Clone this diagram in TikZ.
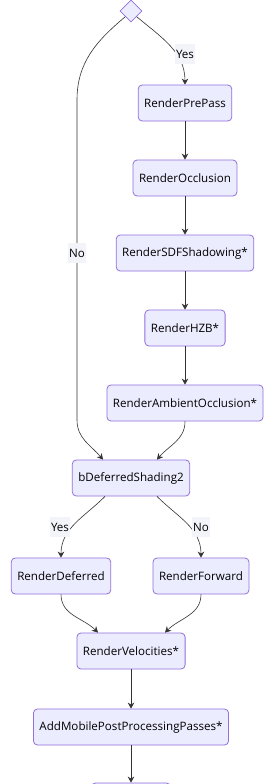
\documentclass[tikz,border=0pt]{standalone}
\usepackage{fontspec}
\setmainfont{Open Sans}
\usetikzlibrary{arrows.meta,shapes.geometric}
\definecolor{boxfill}{HTML}{ECECFF}
\definecolor{boxline}{HTML}{9370DB}
\definecolor{edgeline}{HTML}{333333}
\definecolor{lblfill}{HTML}{F3F3FA}
\tikzset{
  stepbox/.style={draw=boxline, fill=boxfill, rounded corners=4pt, line width=0.8pt,
    minimum height=36pt, inner xsep=6pt, font=\fontsize{11.6}{13}\selectfont},
  choice/.style={diamond, aspect=1, draw=boxline, fill=boxfill, line width=0.8pt,
    minimum size=22pt, inner sep=0pt},
  flow/.style={draw=edgeline, line width=0.6pt, -{Stealth[length=6pt,width=6.5pt,inset=2pt]}},
  edgelbl/.style={fill=lblfill, inner sep=1pt, minimum height=20pt, font=\fontsize{11.6}{13}\selectfont}
}
\begin{document}
\begin{tikzpicture}[x=1pt, y=-1pt]
\clip (0,0) rectangle (273,784);
\fill[white] (0,0) rectangle (273,784);
\node[choice] (dec) at (131,11) {};
\node[stepbox] (prepass) at (185,103) {RenderPrePass};
\node[stepbox] (occl) at (185,178) {RenderOcclusion};
\node[stepbox] (sdf) at (185,253) {RenderSDFShadowing*};
\node[stepbox] (hzb) at (185,328) {RenderHZB*};
\node[stepbox] (ao) at (185,403) {RenderAmbientOcclusion*};
\node[stepbox] (bds) at (131,478) {bDeferredShading2};
\node[stepbox] (deferred) at (61,576) {RenderDeferred};
\node[stepbox] (forward) at (201,576) {RenderForward};
\node[stepbox] (vel) at (131,651) {RenderVelocities*};
\node[stepbox] (mobilepp) at (131,727) {AddMobilePostProcessingPasses*};
\node[stepbox, minimum width=79pt] (nextpass) at (131,801) {};
\coordinate (notop) at (77,100);
\coordinate (nobot) at (77,420);
\draw[flow] (dec.south east) to[out=-40,in=90] (prepass.north);
\draw[flow] (prepass) -- (occl);
\draw[flow] (occl) -- (sdf);
\draw[flow] (sdf) -- (hzb);
\draw[flow] (hzb) -- (ao);
\draw[flow] (ao.south) to[out=-90,in=50] ([xshift=26pt]bds.north);
\draw[flow] (dec.south west) to[out=-140,in=90] (notop) -- (nobot) to[out=-90,in=130] ([xshift=-28pt]bds.north);
\draw[flow] ([xshift=-26pt]bds.south) to[out=-135,in=90] (deferred.north);
\draw[flow] ([xshift=26pt]bds.south) to[out=-45,in=90] (forward.north);
\draw[flow] (deferred.south) to[out=-90,in=135] ([xshift=-33pt]vel.north);
\draw[flow] (forward.south) to[out=-90,in=45] ([xshift=34pt]vel.north);
\draw[flow] (vel) -- (mobilepp);
\draw[flow] (mobilepp) -- (nextpass);
\node[edgelbl] (yesa) at (185,54) {Yes};
\node[edgelbl] (noa) at (77,253) {No};
\node[edgelbl] (yesb) at (60,527) {Yes};
\node[edgelbl] (nob) at (201,527) {No};
\end{tikzpicture}
\end{document}
